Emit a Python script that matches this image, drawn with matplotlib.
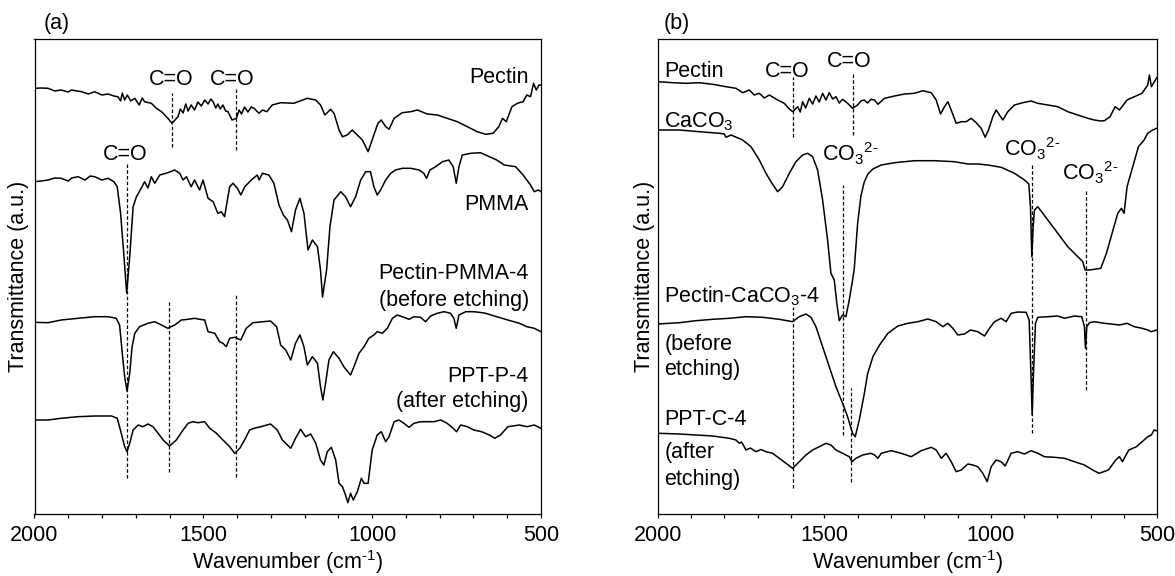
import numpy as np
import matplotlib
matplotlib.use("Agg")
import matplotlib.pyplot as plt
from matplotlib.ticker import MultipleLocator

plt.rcParams['font.family'] = ['Liberation Sans', 'DejaVu Sans']
plt.rcParams['mathtext.fontset'] = 'custom'
plt.rcParams['mathtext.rm'] = 'Liberation Sans'
plt.rcParams['mathtext.it'] = 'Liberation Sans:italic'
plt.rcParams['mathtext.bf'] = 'Liberation Sans:bold'

# ---------------- data: (wavenumber cm-1, transmittance a.u.) ----------------
A_PECTIN = [(2000, 425.7), (1980, 426), (1960, 425.7), (1940, 423), (1921, 424), (1900, 422), (1891, 424),
            (1861, 422.3), (1840, 420), (1822, 422.3), (1800, 419), (1782, 420), (1765, 418), (1753, 417.3),
            (1745, 413), (1740, 421), (1733, 414), (1725, 419), (1715, 413), (1703, 415.7),
            (1690, 409), (1681, 416), (1674, 412.3), (1654, 410.7), (1639, 405.7), (1624, 402.3),
            (1605, 395.7), (1593, 390.7), (1575, 397.3), (1568, 405), (1560, 401), (1552, 410),
            (1545, 403), (1536, 409), (1526, 404), (1516, 412), (1506, 408), (1496, 414), (1486, 410),
            (1478, 415), (1471, 412.3), (1463, 406), (1457, 410), (1450, 405), (1442, 409), (1434, 403),
            (1427, 402.3), (1415, 394), (1402, 395.7), (1394, 404), (1387, 400), (1378, 407), (1368, 402),
            (1358, 407), (1350, 405.7), (1335, 400.7), (1325, 404), (1312, 402.3), (1296, 409),
            (1271, 411.3), (1232, 410.7), (1192, 415.7), (1167, 414), (1153, 409), (1140, 399),
            (1123, 404.7), (1113, 400.7), (1098, 384), (1088, 377.3), (1074, 379), (1059, 384),
            (1044, 379), (1029, 374), (1012, 362.3), (1000, 374), (983, 390.7), (973, 394), (960, 387.3),
            (950, 384.7), (935, 395.7), (911, 401.3), (886, 402.3), (866, 404), (837, 400), (807, 399),
            (778, 395.7), (748, 392.3), (718, 387.3), (689, 382.3), (664, 379.7), (642, 380.7),
            (625, 387.3), (614, 395.7), (603, 392.3), (586, 407.3), (570, 410.7), (553, 412.3),
            (542, 419), (531, 417.3), (522, 430.7), (514, 424), (506, 429), (500, 429)]

A_PMMA = [(2000, 332.3), (1980, 333), (1960, 334), (1940, 336), (1921, 335.7), (1900, 333), (1890, 336),
          (1871, 337.3), (1850, 334), (1835, 338), (1822, 337.3), (1800, 334), (1782, 335.7),
          (1765, 332.3), (1755, 327.3), (1745, 300.7),
          (1735, 257.3), (1727, 221), (1718, 257.3), (1708, 307.3), (1698, 317.3), (1684, 325.7),
          (1674, 332.3), (1664, 326), (1654, 337.3), (1644, 330.7), (1629, 339), (1605, 341.3),
          (1585, 344), (1570, 340.7), (1560, 334), (1550, 337.3), (1536, 327.3), (1526, 334),
          (1511, 324), (1501, 334), (1486, 315.7), (1471, 312.3), (1457, 300.7), (1447, 302.3),
          (1437, 297.3), (1427, 317.3), (1422, 327.3), (1412, 330.7), (1399, 325.7), (1389, 319),
          (1377, 327.3), (1358, 334), (1340, 339), (1335, 334), (1325, 340.7), (1306, 339),
          (1291, 330.7), (1276, 309), (1263, 299), (1251, 294), (1239, 282.3), (1227, 304),
          (1214, 315.7), (1202, 300.7), (1190, 264), (1177, 274), (1162, 267.3), (1153, 244),
          (1147, 217), (1135, 244), (1125, 287.3), (1113, 314), (1093, 322.3), (1079, 317.3),
          (1064, 307.3), (1049, 317.3), (1034, 334), (1019, 342.3), (1005, 342.3), (995, 327.3),
          (985, 319), (975, 324), (960, 334), (945, 340.7), (931, 344), (911, 345.7), (886, 345.7),
          (861, 344), (847, 340.7), (839, 335.7), (829, 344), (812, 347.3), (792, 352.3), (773, 354),
          (760, 347.3), (751, 330.7), (743, 347.3), (733, 359), (708, 360.7), (679, 361.3),
          (653, 357.3), (631, 354), (609, 349), (575, 347.3), (553, 339), (542, 334), (531, 329),
          (520, 322.3), (508, 324), (500, 322.3)]

A_PECTIN_PMMA4 = [(2000, 191.7), (1960, 191.3), (1921, 194), (1871, 195.7), (1822, 197.3), (1782, 197.3),
                  (1758, 195.7), (1748, 189), (1740, 160.7), (1733, 137.3), (1726, 123), (1718, 140.7),
                  (1711, 167.3), (1703, 180.7), (1689, 187.3), (1664, 190.7), (1644, 192.3), (1624, 189),
                  (1605, 185.7), (1585, 189), (1565, 194), (1545, 194.7), (1526, 195.7), (1511, 194.7),
                  (1496, 194), (1486, 182.3), (1466, 180.7), (1452, 172.3), (1442, 170.7), (1432, 167.3),
                  (1422, 175.7), (1407, 176.7), (1389, 174), (1373, 185.7), (1353, 191.3), (1301, 193),
                  (1283, 187.3), (1271, 169), (1256, 164), (1241, 154), (1227, 170.7), (1214, 179),
                  (1202, 167.3), (1192, 149), (1177, 157.3), (1162, 150.7), (1153, 127.3), (1146, 114),
                  (1138, 130.7), (1128, 154), (1115, 162.3), (1098, 155.7), (1084, 147.3), (1072, 142.3),
                  (1064, 139), (1054, 147.3), (1039, 160.7), (1024, 167.3), (1010, 175.7), (995, 179),
                  (985, 182.3), (970, 180.7), (955, 185.7), (940, 195.7), (926, 199), (906, 196.7),
                  (891, 194.7), (876, 197.3), (857, 196.7), (842, 192.3), (827, 198), (807, 200.7),
                  (787, 202.3), (768, 200.7), (758, 195.7), (751, 185.7), (743, 199), (723, 202.3),
                  (699, 202.3), (674, 201.3), (664, 200.7), (631, 197.3), (598, 194), (564, 190.7),
                  (542, 187.3), (520, 185.7), (500, 182.3)]

A_PPT_P4 = [(2000, 94), (1960, 94), (1921, 95.7), (1871, 97.3), (1822, 98), (1772, 98), (1755, 95.7),
            (1743, 80.7), (1733, 67.3), (1726, 62.3), (1718, 70.7), (1708, 84), (1693, 89), (1679, 87.3),
            (1664, 90), (1649, 87.3), (1634, 80.7), (1619, 74), (1600, 68), (1580, 74), (1560, 84),
            (1545, 90.7), (1531, 92.3), (1516, 91.3), (1496, 92.3), (1481, 85.7), (1461, 80.7),
            (1442, 74), (1422, 67.3), (1407, 60.7), (1392, 65.7), (1378, 74), (1363, 84), (1350, 85.7),
            (1330, 87.3), (1301, 90), (1281, 84), (1266, 74), (1241, 65.7), (1227, 75.7), (1212, 84.7),
            (1197, 77.3), (1182, 80), (1167, 70.7), (1153, 54), (1143, 49), (1133, 62.3), (1121, 66.7),
            (1108, 54), (1098, 30.7), (1088, 27.3), (1079, 19), (1072, 11.3), (1064, 20.7), (1056, 14),
            (1044, 22.3), (1032, 35.7), (1024, 30.7), (1012, 30.7), (1000, 64), (985, 79), (973, 82.3),
            (960, 72.3), (950, 77.3), (935, 92.3), (921, 94), (906, 90.7), (891, 86.7), (876, 90.7),
            (857, 92.3), (837, 92.3), (817, 92.3), (797, 94), (778, 90.7), (760, 85.7), (750, 82.3),
            (738, 89), (718, 87.3), (699, 84), (676, 82.3), (653, 79), (637, 75.7), (620, 79),
            (598, 87.3), (564, 89), (542, 87.3), (520, 89), (500, 85.7)]

B_PECTIN = [(2000, 432.3), (1955, 431.3), (1915, 430.7), (1875, 431.3), (1835, 429.7), (1795, 427.3),
            (1765, 425.7), (1745, 421.3), (1725, 424), (1710, 419), (1695, 420.7), (1680, 416),
            (1665, 419), (1640, 414), (1620, 410.7), (1607, 405.7), (1595, 402.3), (1580, 407.3),
            (1572, 402), (1565, 412.3), (1556, 406), (1545, 415.7), (1535, 410), (1525, 418),
            (1515, 412), (1505, 420.7), (1495, 414), (1485, 421.3), (1475, 415), (1465, 417.3),
            (1455, 411), (1445, 414.7), (1430, 410.7), (1415, 405.7), (1400, 409), (1390, 413),
            (1380, 414), (1370, 411), (1360, 414.7), (1349, 414), (1339, 409.7), (1319, 415.7),
            (1289, 418), (1259, 420), (1229, 420.7), (1204, 423.3), (1179, 421.3), (1164, 414),
            (1151, 400), (1139, 407.3), (1129, 412.3), (1119, 404), (1104, 390.7), (1089, 392.3),
            (1074, 392.3), (1059, 395.7), (1044, 391.3), (1029, 385.7), (1017, 376.7), (1007, 384),
            (994, 397.3), (984, 404), (974, 399), (964, 394), (949, 402.3), (929, 409), (904, 411.3),
            (879, 413), (859, 410.7), (829, 409), (799, 407.3), (769, 402.3), (739, 399), (709, 395.7),
            (689, 394), (670, 393), (659, 393.3), (642, 397.3), (627, 407.3), (614, 404), (591, 414),
            (569, 417.3), (546, 420.7), (529, 429), (524, 439), (518, 427.3), (503, 435.7), (500, 437)]

B_CACO3 = [(2000, 384), (1935, 384), (1875, 382.3), (1815, 380.7), (1800, 380), (1795, 376.7),
           (1780, 379), (1745, 374), (1720, 367.3), (1695, 354), (1675, 340.7), (1657, 330.7),
           (1640, 322.3), (1625, 327.3), (1605, 340.7), (1585, 352.3), (1565, 359), (1550, 360.7),
           (1535, 357.3), (1520, 344), (1505, 314), (1490, 274), (1480, 240.7), (1470, 234),
           (1462, 210), (1455, 193.3), (1445, 199), (1435, 197.3), (1425, 214), (1415, 234),
           (1410, 245), (1400, 290), (1390, 318), (1380, 332), (1369, 340), (1354, 345), (1329, 349),
           (1289, 351.3), (1229, 353.3), (1169, 353.3), (1109, 352.3), (1069, 350), (1039, 350),
           (1009, 349), (969, 346.7), (929, 340.7), (899, 334), (886, 330), (881, 307.3), (877, 257.3),
           (873, 287.3), (869, 304), (859, 307.3), (829, 294), (799, 280.7), (769, 267.3), (739, 257.3),
           (724, 252.3), (717, 244), (712, 244), (704, 244), (689, 244.7), (670, 245.7), (653, 260.7),
           (636, 280.7), (619, 300.7), (608, 305.7), (600, 300.7), (591, 327.3), (574, 347.3),
           (557, 367.3), (540, 374), (529, 380.7), (518, 383.3), (503, 385.7), (500, 386)]

B_PECTIN_CACO3_4 = [(2000, 190), (1935, 191.3), (1885, 193.3), (1835, 194.7), (1785, 195.7), (1735, 197.3),
                    (1685, 196.7), (1635, 194.7), (1595, 192.3), (1575, 197.3), (1555, 200), (1540, 196.7),
                    (1525, 187.3), (1505, 167.3), (1485, 147.3), (1465, 127.3), (1445, 110.7), (1430, 97.3),
                    (1415, 80.7), (1407, 77.3), (1395, 94), (1380, 120), (1370, 140), (1354, 157.3),
                    (1334, 169), (1309, 180.7), (1279, 188), (1249, 190.7), (1219, 192.3), (1189, 195),
                    (1164, 192.3), (1144, 187.3), (1129, 190.7), (1114, 185.7), (1099, 179), (1079, 180),
                    (1061, 184), (1039, 182.3), (1019, 178), (1004, 185.7), (989, 192.3), (969, 195.7),
                    (954, 192.3), (939, 200.7), (919, 202), (894, 201.7), (885, 194), (879, 134), (876, 99),
                    (872, 140.7), (866, 190.7), (859, 196.7), (829, 197.3), (799, 198), (779, 195.7),
                    (749, 198), (727, 197.3), (719, 187.3), (716, 165.7), (712, 187.3), (704, 191.3),
                    (689, 192.3), (659, 190.7), (614, 189), (591, 190.7), (569, 187.3), (546, 185.7),
                    (529, 184), (518, 182.3), (503, 184), (500, 183)]

B_PPT_C4 = [(2000, 80.7), (1935, 80), (1885, 79), (1835, 78), (1785, 75.7), (1765, 74), (1755, 70.7),
            (1748, 72), (1735, 64), (1722, 66), (1705, 62.3), (1690, 64.5), (1675, 62.3), (1655, 60.7),
            (1635, 55.7), (1615, 50.7), (1595, 45.7),
            (1575, 52.3), (1555, 59), (1535, 64), (1515, 67.3), (1495, 70.7), (1480, 69), (1465, 64),
            (1445, 60.7), (1425, 57.3), (1417, 52.3), (1405, 55.7), (1385, 59), (1360, 60.7), (1349, 59),
            (1339, 55.7), (1329, 60.7), (1299, 63.3), (1269, 60.7), (1239, 57.3), (1209, 63.3),
            (1179, 66.7), (1164, 64), (1149, 55.7), (1134, 60.7), (1119, 52.3), (1104, 42.3), (1089, 44),
            (1069, 50), (1054, 49), (1039, 47.3), (1024, 40.7), (1011, 32.3), (999, 47.3), (984, 54),
            (969, 52.3), (957, 48), (939, 60.7), (919, 62.3), (899, 60), (879, 63.3), (859, 60.7),
            (839, 57.3), (809, 56.7), (779, 55.7), (749, 52.3), (719, 49), (694, 44), (675, 40.7),
            (647, 44), (625, 54), (614, 57.3), (605, 52.3), (586, 64), (563, 67.3), (540, 74),
            (529, 77.3), (518, 79), (510, 84), (500, 83)]

# marker lines: (wavenumber, y_low, y_high)
A_DASHES = [(1593, 367, 421), (1404, 364, 425), (1727, 36, 350), (1603, 42, 212), (1404, 37, 219)]
B_DASHES = [(1595, 377, 437), (1415, 379, 441), (1445, 79, 329), (877, 81, 349), (713, 124, 324),
            (1595, 26, 207), (1420, 32, 126)]

A_SERIES = [A_PECTIN, A_PMMA, A_PECTIN_PMMA4, A_PPT_P4]
B_SERIES = [B_PECTIN, B_CACO3, B_PECTIN_CACO3_4, B_PPT_C4]

XTICKS = [2000, 1500, 1000, 500]

CO3 = 'CO$_3$$^{2\\text{-}}$'

FS = 15.5
W, H = 1175, 576
fig = plt.figure(figsize=(W / 100, H / 100), dpi=100)

def px_axes(left, right, top, bottom):
    return fig.add_axes([left / W, 1 - bottom / H, (right - left) / W, (bottom - top) / H])

axA = px_axes(34.5, 541, 39, 514)
axB = px_axes(657.7, 1157.4, 39, 514)

dash_style = (0, (2.8, 1.8))

for ax, series, dashes in [(axA, A_SERIES, A_DASHES), (axB, B_SERIES, B_DASHES)]:
    for s in series:
        arr = np.array(s)
        ax.plot(arr[:, 0], arr[:, 1], color='black', lw=1.1, solid_joinstyle='round')
    for wn, y0, y1 in dashes:
        ax.plot([wn, wn], [y0, y1], color='black', lw=0.9, linestyle=dash_style)
    ax.set_xlim(2000, 500)
    ax.set_ylim(0, 475)
    ax.set_xticks(XTICKS)
    ax.xaxis.set_minor_locator(MultipleLocator(100))
    ax.tick_params(axis='x', which='both', direction='out', length=3.2, width=0.9,
                   labelsize=FS, pad=5)
    ax.tick_params(axis='y', which='both', left=False, labelleft=False)
    for sp in ax.spines.values():
        sp.set_linewidth(0.9)
    ax.set_xlabel('Wavenumber (cm$^{\\text{-}1}$)', fontsize=FS)
    ax.xaxis.label.set_verticalalignment('center')
    ax.xaxis.set_label_coords(0.5, -0.102)
    ax.set_ylabel('Transmittance (a.u.)', fontsize=FS)
    ax.yaxis.label.set_verticalalignment('center')

axA.yaxis.set_label_coords(-0.031, 0.5)
axB.yaxis.set_label_coords(-0.026, 0.5)

# panel (a) annotations (baseline positions)
axA.text(1595, 429, 'C=O', fontsize=FS, ha='center', va='baseline')
axA.text(1415, 429, 'C=O', fontsize=FS, ha='center', va='baseline')
axA.text(1732, 354, 'C=O', fontsize=FS, ha='center', va='baseline')
for txt, y in [('Pectin', 431), ('PMMA', 304), ('Pectin-PMMA-4', 234.7), ('(before etching)', 208),
               ('PPT-P-4', 132.3), ('(after etching)', 106.7)]:
    axA.text(536, y, txt, fontsize=FS, ha='right', va='baseline')

# panel (b) annotations (baseline positions)
axB.text(1610, 437.3, 'C=O', fontsize=FS, ha='center', va='baseline')
axB.text(1425, 446.7, 'C=O', fontsize=FS, ha='center', va='baseline')
axB.text(1507, 352.3, CO3, fontsize=FS, ha='left', va='baseline')
axB.text(959, 357.3, CO3, fontsize=FS, ha='left', va='baseline')
axB.text(786, 334, CO3, fontsize=FS, ha='left', va='baseline')
for txt, y in [('Pectin', 437.3), ('CaCO$_3$', 386.7), ('Pectin-CaCO$_3$-4', 211.3), ('(before', 164),
               ('etching)', 139), ('PPT-C-4', 89), ('(after', 55.7), ('etching)', 29)]:
    axB.text(1980, y, txt, fontsize=FS, ha='left', va='baseline')

fig.text(44 / W, 1 - 23 / H, '(a)', fontsize=FS, ha='left', va='center')
fig.text(664 / W, 1 - 23 / H, '(b)', fontsize=FS, ha='left', va='center')

fig.savefig('out.png', dpi=100)
